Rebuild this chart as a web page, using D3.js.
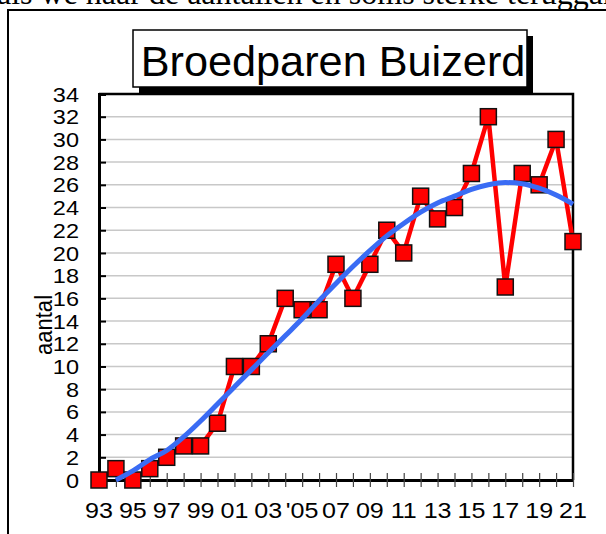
<!DOCTYPE html>
<html lang="nl">
<head>
  <meta charset="UTF-8">
  <title>Broedparen Buizerd</title>
  <script src="https://d3js.org/d3.v7.min.js"></script>
  <style>
    body { margin: 0; background: #fff; }
    svg text { font-family: "Liberation Sans", Arial, sans-serif; }
  </style>
</head>
<body>
  <script>
    // jaren en tellingen
    const years = d3.range(1993, 2022);
    const pairs = [0, 1, 0, 1, 2, 3, 3, 5, 10, 10, 12, 16, 15, 15, 19, 16, 19, 22, 20, 25, 23, 24, 27, 32, 17, 27, 26, 30, 21];
    // trendlijn (1994 t/m 2021)
    const trendYears = d3.range(1994, 2022);
    const trend = [0, 0.8, 1.8, 2.6, 3.8, 5.2, 6.7, 8.2, 9.7, 11.2, 12.7, 14.2, 15.8, 17.3, 18.8, 20.2, 21.5, 22.6, 23.6, 24.4, 25.0, 25.6, 26.0, 26.2, 26.1, 25.7, 25.1, 24.3];
    const yTicks = d3.range(0, 35, 2);
    const xLabels = ["93", "95", "97", "99", "01", "03", "'05", "07", "09", "11", "13", "15", "17", "19", "21"];

    const width = 606, height = 534;
    const plotLeft = 99, plotRight = 573, plotTop = 94, plotBottom = 480;
    const stretch = 1.12; // labels in het origineel zijn iets breed getrokken

    const svg = d3.select("body").append("svg")
      .attr("width", width)
      .attr("height", height);

    // afgesneden tekstregel bovenaan
    svg.append("text")
      .attr("x", -3)
      .attr("y", 4)
      .style("font-family", "'Liberation Serif', 'Times New Roman', serif")
      .style("font-size", "32px")
      .text("als we naar de aantallen en soms sterke teruggang");

    // kader
    svg.append("rect")
      .attr("x", 8).attr("y", 10)
      .attr("width", 620).attr("height", 560)
      .attr("fill", "white")
      .attr("stroke", "black")
      .attr("stroke-width", 2);

    const x = d3.scaleLinear().domain([1993, 2021]).range([plotLeft, plotRight]);
    const y = d3.scaleLinear().domain([0, 34]).range([plotBottom, plotTop]);

    // rasterlijnen
    svg.append("g")
      .selectAll("line")
      .data(yTicks.filter(d => d > 0 && d < 34))
      .enter()
      .append("line")
      .attr("x1", plotLeft).attr("x2", plotRight)
      .attr("y1", d => y(d)).attr("y2", d => y(d))
      .attr("stroke", "#c8c8c8")
      .attr("stroke-width", 1.5);

    // boven- en rechterrand van het plotvlak
    svg.append("path")
      .attr("d", `M${plotLeft},${plotTop}H${plotRight}V${plotBottom}`)
      .attr("fill", "none")
      .attr("stroke", "black")
      .attr("stroke-width", 2.5);

    // y-as
    const yAxis = svg.append("g")
      .attr("transform", `translate(${plotLeft},0)`)
      .call(d3.axisRight(y).tickValues(yTicks).tickSize(7).tickFormat(""));
    yAxis.select(".domain").attr("stroke-width", 3);
    yAxis.selectAll(".tick line").attr("stroke-width", 2);

    svg.append("g")
      .selectAll("text")
      .data(yTicks)
      .enter()
      .append("text")
      .attr("transform", d => `translate(79,${y(d)}) scale(${stretch},1)`)
      .attr("dy", "0.36em")
      .attr("text-anchor", "end")
      .style("font-size", "21px")
      .text(d => d);

    // x-as
    const xAxis = svg.append("g")
      .attr("transform", `translate(0,${plotBottom})`)
      .call(d3.axisBottom(x).tickValues(years).tickSize(7).tickSizeOuter(0).tickFormat(""));
    xAxis.select(".domain").attr("stroke-width", 3);
    xAxis.selectAll(".tick line")
      .attr("y1", -7)
      .attr("stroke", "#444")
      .attr("stroke-width", 1.2);

    svg.append("g")
      .selectAll("text")
      .data(xLabels)
      .enter()
      .append("text")
      .attr("transform", (d, i) => `translate(${x(1993 + 2 * i)},518) scale(1.14,1)`)
      .attr("text-anchor", "middle")
      .style("font-size", "22px")
      .text(d => d);

    svg.append("text")
      .attr("transform", "translate(52,325) rotate(-90) scale(1.05,1.1)")
      .attr("text-anchor", "middle")
      .style("font-size", "21px")
      .text("aantal");

    // reekslijn
    svg.append("path")
      .datum(pairs)
      .attr("fill", "none")
      .attr("stroke", "#ff0000")
      .attr("stroke-width", 4.5)
      .attr("stroke-linejoin", "round")
      .attr("d", d3.line().x((d, i) => x(years[i])).y(d => y(d)));

    svg.append("g")
      .selectAll("rect")
      .data(pairs)
      .enter()
      .append("rect")
      .attr("x", (d, i) => x(years[i]) - 8)
      .attr("y", d => y(d) - 8)
      .attr("width", 16)
      .attr("height", 16)
      .attr("fill", "#ff0000")
      .attr("stroke", "#111")
      .attr("stroke-width", 1.5);

    // trendlijn
    svg.append("path")
      .datum(trend)
      .attr("fill", "none")
      .attr("stroke", "#3a6cf4")
      .attr("stroke-width", 5)
      .attr("d", d3.line().curve(d3.curveMonotoneX).x((d, i) => x(trendYears[i])).y(d => y(d)));

    // titel met schaduw
    svg.append("rect")
      .attr("x", 139).attr("y", 36)
      .attr("width", 394).attr("height", 57)
      .attr("fill", "black");
    svg.append("rect")
      .attr("x", 133).attr("y", 30)
      .attr("width", 394).attr("height", 57)
      .attr("fill", "white")
      .attr("stroke", "black")
      .attr("stroke-width", 1.5);
    svg.append("text")
      .attr("transform", "translate(333,76) scale(1.03,1)")
      .attr("text-anchor", "middle")
      .style("font-size", "42px")
      .text("Broedparen Buizerd");
  </script>
</body>
</html>
